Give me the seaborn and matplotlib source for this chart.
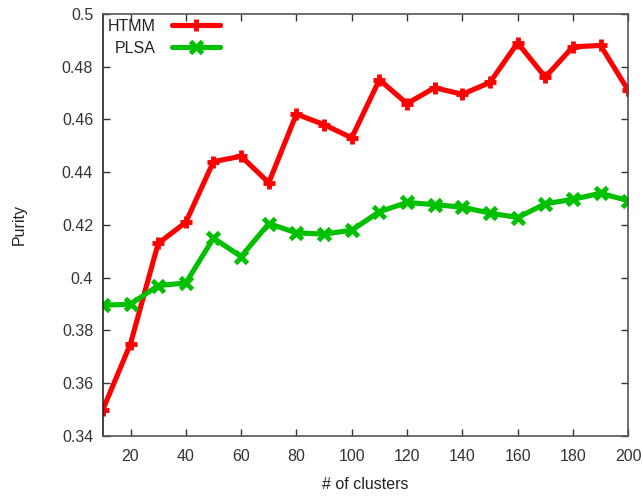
import numpy as np
import pandas as pd
import matplotlib
matplotlib.use("Agg")
import matplotlib.pyplot as plt
import seaborn as sns

# Number of clusters evaluated
clusters = [10, 20, 30, 40, 50, 60, 70, 80, 90, 100,
            110, 120, 130, 140, 150, 160, 170, 180, 190, 200]

# Purity scores per model
htmm = [0.350, 0.375, 0.413, 0.421, 0.444, 0.446, 0.436, 0.462, 0.458, 0.453,
        0.475, 0.466, 0.472, 0.4695, 0.474, 0.489, 0.476, 0.4875, 0.488, 0.471]
plsa = [0.3895, 0.390, 0.397, 0.398, 0.415, 0.408, 0.4205, 0.417, 0.4165, 0.418,
        0.425, 0.4285, 0.4277, 0.4267, 0.4245, 0.4228, 0.428, 0.4297, 0.432, 0.4292]

x_ticks = [20, 40, 60, 80, 100, 120, 140, 160, 180, 200]
y_ticks = [0.34, 0.36, 0.38, 0.40, 0.42, 0.44, 0.46, 0.48, 0.50]
y_tick_labels = ["0.34", "0.36", "0.38", "0.4", "0.42", "0.44", "0.46", "0.48", "0.5"]

df = pd.DataFrame({
    "clusters": clusters * 2,
    "purity": htmm + plsa,
    "model": ["HTMM"] * len(clusters) + ["PLSA"] * len(clusters),
})

sns.set_style("ticks")
plt.rcParams["font.family"] = ["Liberation Sans", "DejaVu Sans"]

fig = plt.figure(figsize=(6.43, 4.97), dpi=100)
ax = fig.add_axes([0.160, 0.1227, 0.817, 0.8495])

styles = {"HTMM": ("#ff0000", "+"), "PLSA": ("#00c000", "x")}
for name, (color, marker) in styles.items():
    sub = df[df["model"] == name]
    sns.lineplot(data=sub, x="clusters", y="purity", ax=ax, color=color,
                 linewidth=3.7, marker=marker, markersize=9,
                 markeredgewidth=3.5, markeredgecolor=color, label=name)

ax.set_xlim(10, 200)
ax.set_ylim(0.34, 0.50)
ax.set_xticks(x_ticks)
ax.set_yticks(y_ticks)
ax.set_yticklabels(y_tick_labels)
ax.tick_params(direction="in", length=5, width=1, top=True, right=True,
               labelsize=11.5, colors="#333333", pad=7)
ax.tick_params(axis="x", pad=9)
for side in ["left", "bottom", "top", "right"]:
    ax.spines[side].set_visible(True)
    ax.spines[side].set_color("#555555")
    ax.spines[side].set_linewidth(1.2)
ax.spines["left"].set_color("#222222")

ax.set_xlabel("# of clusters", fontsize=11.5, color="#222222", labelpad=10)
ax.set_ylabel("Purity", fontsize=11.5, color="#222222", labelpad=25)

leg = ax.legend(loc="upper left", frameon=False, markerfirst=False,
                fontsize=11.5, handlelength=3.0, borderaxespad=0.0,
                borderpad=0.3, labelspacing=0.45, handletextpad=1.0)
for t in leg.get_texts():
    t.set_color("#222222")

fig.savefig("out.png", dpi=100)
